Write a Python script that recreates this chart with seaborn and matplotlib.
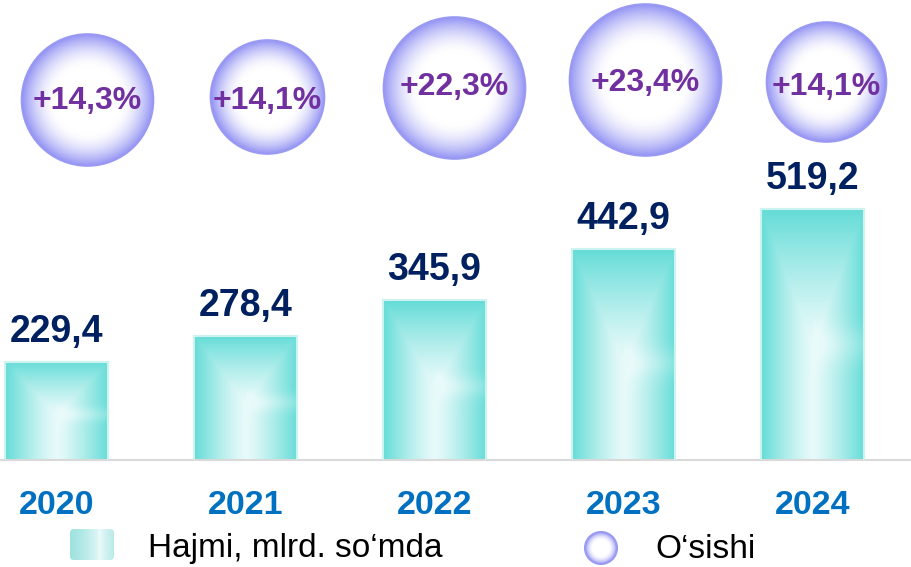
import numpy as np
import pandas as pd
import matplotlib
matplotlib.use("Agg")
import matplotlib.pyplot as plt
import seaborn as sns
from matplotlib.patches import Circle, FancyBboxPatch
from matplotlib.colors import to_rgb

# ---------------- data ----------------
years = ["2020", "2021", "2022", "2023", "2024"]
volume = [229.4, 278.4, 345.9, 442.9, 519.2]
growth = ["+14,3%", "+14,1%", "+22,3%", "+23,4%", "+14,1%"]
legend_labels = ["Hajmi, mlrd. so\u2018mda", "O\u2018sishi"]

# ---------------- layout (pixels) ----------------
W, H = 911, 567
BASE_PX = 460            # baseline from top
PX_PER_UNIT = 0.5256
YMIN = 42
bubble_dx = [31, 22, 20, 22, 14]
bubble_cy = [100, 97, 88, 80, 82]
bubble_r = [66, 57, 71, 76, 60]
label_cy = [98, 98, 84, 79, 83]

sns.set_style("white")
plt.rcParams["font.family"] = ["Liberation Sans", "DejaVu Sans"]

fig = plt.figure(figsize=(W / 100, H / 100), dpi=100)
ax = fig.add_axes([0, (H - BASE_PX) / H, 1, BASE_PX / H])

df = pd.DataFrame({"year": years, "volume": volume})
sns.barplot(data=df, x="year", y="volume", ax=ax, color="#7FE0DC",
            width=0.545, edgecolor="#CDF3F1", linewidth=1.5, saturation=1)

xlim = (-56.5 / 189, (W - 56.5) / 189)
ylim = (YMIN, YMIN + BASE_PX / PX_PER_UNIT)

# gradient fill for bars
teal = np.array(to_rgb("#64DCD7"))
light = np.array(to_rgb("#E8FAFA"))
n = 240
u = np.linspace(0, 1, n)[None, :]
v = np.linspace(1, 0, n)[:, None]
cy = 0.46
t = np.maximum(np.abs(u - 0.5) / 0.5, np.clip((v - cy) / (1 - cy), 0, None))
# slightly lighter band to the right of the focus point
t = t - 0.18 * np.exp(-((v - cy) / 0.07) ** 2) * (u > 0.5)
t = np.clip(t, 0, 1) ** 1.25
bar_img = light * (1 - t[..., None]) + teal * t[..., None]

for p in list(ax.patches):
    x0, w, h = p.get_x(), p.get_width(), p.get_height()
    im = ax.imshow(bar_img, extent=[x0, x0 + w, YMIN, h], aspect="auto",
                   interpolation="bilinear", zorder=2)
    im.set_clip_path(p)
    p.set_facecolor("none")
    p.set_zorder(3)

ax.set_xlim(*xlim)
ax.set_ylim(*ylim)
ax.set_aspect("auto")

for i, val in enumerate(volume):
    ax.annotate(f"{val:.1f}".replace(".", ","), (i, val), xytext=(0, 14.4),
                textcoords="offset points", ha="center", va="baseline",
                fontsize=27, fontweight="bold", color="#002060", zorder=5)

ax.set_xlabel("")
ax.set_ylabel("")
ax.set_yticks([])
ax.tick_params(axis="x", length=0, pad=21.5, labelsize=24.5, labelcolor="#0070C0")
for lbl in ax.get_xticklabels():
    lbl.set_fontweight("bold")
sns.despine(ax=ax, left=True)
ax.spines["bottom"].set_color("#D9D9D9")
ax.spines["bottom"].set_linewidth(1.5)

# ---------------- overlay in pixel coords ----------------
ov = fig.add_axes([0, 0, 1, 1], zorder=10)
ov.patch.set_alpha(0)
ov.set_xlim(0, W)
ov.set_ylim(H, 0)
ov.axis("off")

white = np.array([1.0, 1.0, 1.0])
lav = np.array(to_rgb("#9393F4"))
g = np.linspace(-1, 1, 301)
X, Y = np.meshgrid(g, g)
d = np.sqrt(X ** 2 + Y ** 2)
tb = np.clip((d - 0.5) / 0.5, 0, 1) ** 1.7
bub_img = np.dstack([white * (1 - tb[..., None]) + lav * tb[..., None],
                     (d <= 1.02).astype(float)])


def bubble(cx, cyy, r, lw=1.2):
    c = Circle((cx, cyy), r, facecolor="none", edgecolor="#9A9AF3", lw=lw, zorder=3)
    ov.add_patch(c)
    im = ov.imshow(bub_img, extent=[cx - r, cx + r, cyy + r, cyy - r],
                   interpolation="bilinear", zorder=2)
    im.set_clip_path(c)


for i in range(len(years)):
    bx = ax.transData.transform((i, YMIN))[0]
    cx = bx + bubble_dx[i]
    bubble(cx, bubble_cy[i], bubble_r[i])
    ov.text(cx, label_cy[i] + 11.5, growth[i], ha="center", va="baseline",
            fontsize=23, fontweight="bold", color="#7030A0", zorder=5)

# legend: teal box
box = FancyBboxPatch((70, 529), 44, 31, boxstyle="round,pad=0,rounding_size=4",
                     facecolor="none", edgecolor="none", zorder=3)
ov.add_patch(box)
uu = np.linspace(0, 1, 100)
tt = np.clip(np.abs(uu - 0.68) / 0.68, 0, 1) ** 0.6
leg_row = np.array(to_rgb("#F0FCFC")) * (1 - tt[:, None]) + np.array(to_rgb("#9DE2DF")) * tt[:, None]
leg_img = np.repeat(leg_row[None, :, :], 10, axis=0)
im = ov.imshow(leg_img, extent=[70, 114, 560, 529], aspect="auto",
               interpolation="bilinear", zorder=2)
im.set_clip_path(box)
ov.text(148, 549, legend_labels[0], ha="left", va="center", fontsize=24, color="black")

bubble(601, 548, 16, lw=1.5)
ov.text(655, 550, legend_labels[1], ha="left", va="center", fontsize=24, color="black")

ov.set_xlim(0, W)
ov.set_ylim(H, 0)
ov.set_aspect("auto")

fig.savefig("out.png", dpi=100)
